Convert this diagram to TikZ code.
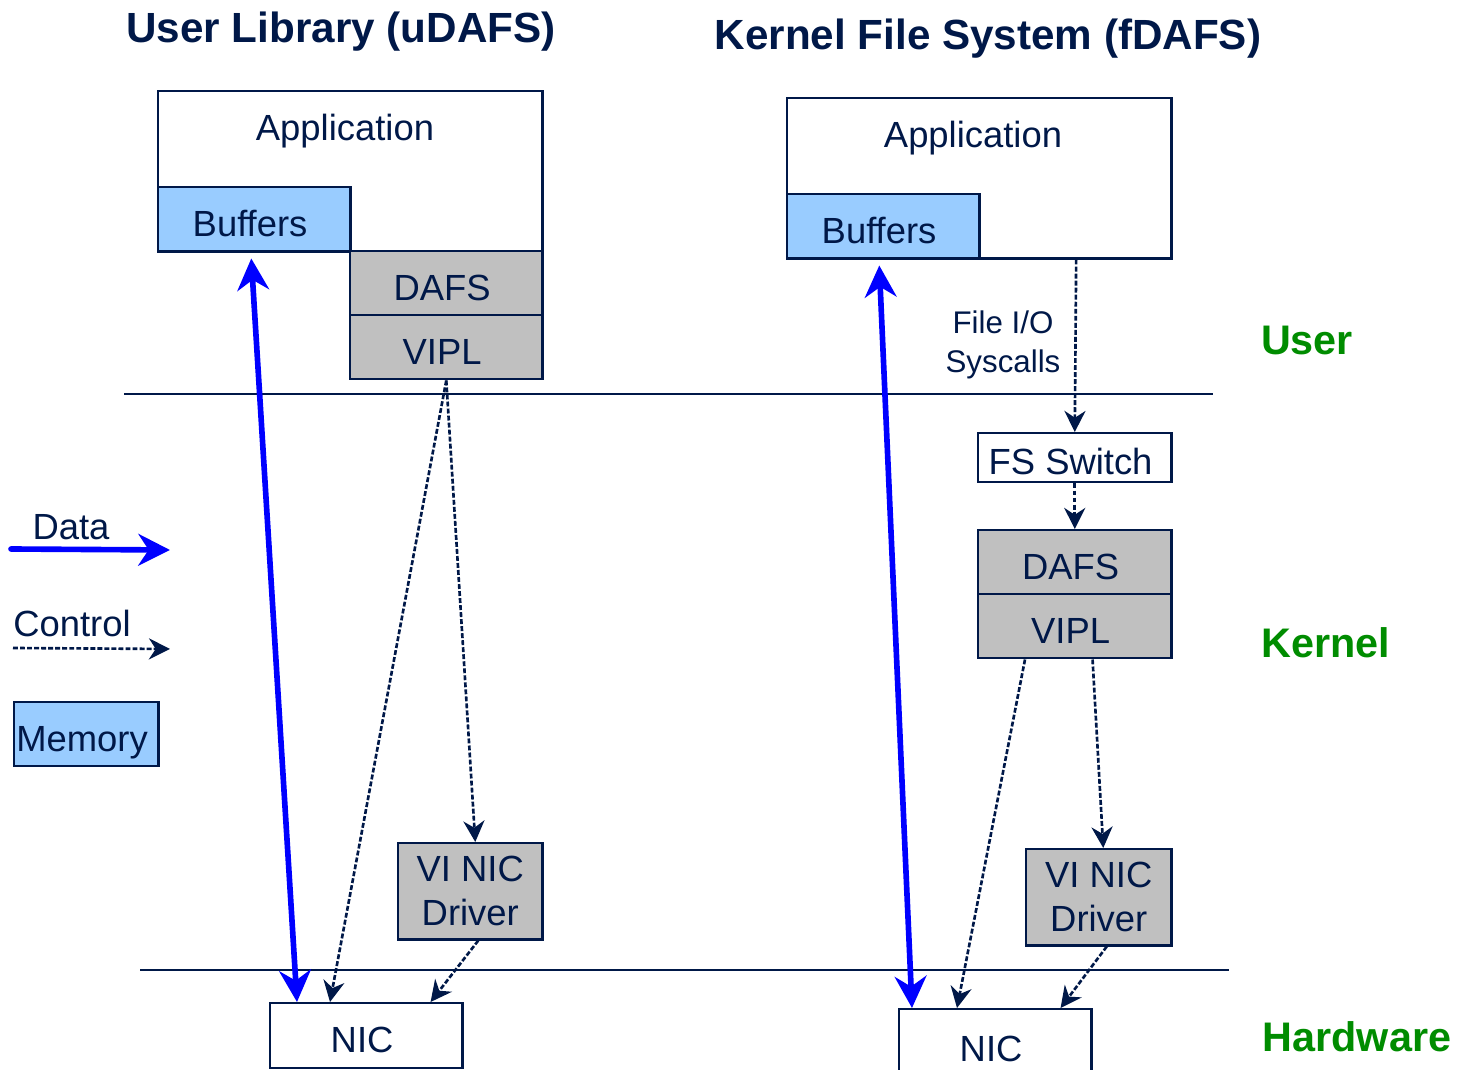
\documentclass[tikz,border=0pt]{standalone}
\usepackage{fontspec}
\setmainfont{Liberation Sans}
\usetikzlibrary{arrows.meta,calc}
\definecolor{navy}{RGB}{0,24,72}
\definecolor{membg}{RGB}{153,204,255}
\definecolor{layerbg}{RGB}{192,192,192}
\definecolor{datablue}{RGB}{0,0,255}
\definecolor{levelgreen}{RGB}{0,140,0}
\newcommand{\boxfont}{\fontsize{10.35}{12.5}\selectfont}

\begin{document}
\begin{tikzpicture}[x=0.01cm,y=-0.01cm,
	blk/.style={draw=navy,line width=0.7pt,inner sep=0pt,text=navy,font=\boxfont,anchor=north west},
	tb/.style={blk,text height=9.6pt,text depth=0pt,execute at end node={\kern2.4pt}},
	mem/.style={tb,fill=membg},
	layer/.style={tb,fill=layerbg},
	txt/.style={text=navy,font=\boxfont,inner sep=0pt},
	level/.style={text=levelgreen,font=\fontsize{11.75}{14}\selectfont\bfseries,inner sep=0pt},
	title/.style={text=navy,font=\fontsize{12}{14}\selectfont\bfseries,inner sep=0pt},
	dtip/.tip={Stealth[length=9pt,width=9pt]},
	ctip/.tip={Stealth[length=6pt,width=6pt]},
	data/.style={datablue,line width=1.6pt,line cap=round},
	ctrl/.style={navy,line width=0.75pt,dash pattern=on 1.4pt off 0.6pt,-ctip},
	sep/.style={navy,line width=0.8pt}]
	\useasboundingbox (0,0) rectangle (1462,1070);

	\node[title] (ttl1) at (341,32) {User Library (uDAFS)};
	\node[title] (ttl2) at (988,39) {Kernel File System (fDAFS)};

	% uDAFS
	\node[blk,minimum width=3.84cm,minimum height=1.6cm] (app1) at (157,90) {};
	\node[txt] (app1t) at (345,131) {Application};
	\node[mem,minimum width=1.92cm,minimum height=0.64cm] (buf1) at (157,186) {Buffers};
	\node[layer,minimum width=1.92cm,minimum height=0.64cm] (dafs1) at (349,250) {DAFS};
	\node[layer,minimum width=1.92cm,minimum height=0.64cm] (vipl1) at (349,314) {VIPL};
	\node[blk,fill=layerbg,minimum width=1.44cm,minimum height=0.96cm,align=center] (drv1) at (397,842) {VI NIC\\Driver};
	\node[tb,minimum width=1.92cm,minimum height=0.65cm] (nic1) at (269,1002) {NIC};

	% fDAFS
	\node[blk,minimum width=3.84cm,minimum height=1.6cm] (app2) at (786,97) {};
	\node[txt] (app2t) at (973,138) {Application};
	\node[mem,minimum width=1.92cm,minimum height=0.64cm] (buf2) at (786,193) {Buffers};
	\node[txt,align=center,font=\fontsize{8.9}{11}\selectfont] (sysc) at (1003,345) {File I/O\\Syscalls};
	\node[tb,minimum width=1.93cm,minimum height=0.49cm] (fss) at (977,432) {FS Switch};
	\node[layer,minimum width=1.93cm,minimum height=0.64cm] (dafs2) at (977,529) {DAFS};
	\node[layer,minimum width=1.93cm,minimum height=0.64cm] (vipl2) at (977,593) {VIPL};
	\node[blk,fill=layerbg,minimum width=1.45cm,minimum height=0.96cm,align=center] (drv2) at (1025,848) {VI NIC\\Driver};
	\node[tb,minimum width=1.92cm,minimum height=0.7cm] (nic2) at (898,1008) {NIC};

	\node[level] (lvuser) at (1307,340) {User};
	\node[level] (lvkern) at (1326,643) {Kernel};
	\node[level] (lvhw) at (1357,1037) {Hardware};

	\draw[sep] (124,394) -- (1213,394);
	\draw[sep] (140,970) -- (1229,970);

	% legend
	\node[txt] (lgdata) at (71,527) {Data};
	\coordinate (lgd0) at (11,549);
	\coordinate (lgd1) at (170,550);
	\draw[data,-dtip] (lgd0) -- (lgd1);
	\node[txt] (lgctrl) at (72,623) {Control};
	\coordinate (lgc0) at (13,648);
	\coordinate (lgc1) at (170,649);
	\draw[ctrl] (lgc0) -- (lgc1);
	\node[mem,minimum width=1.44cm,minimum height=0.64cm] (lgmem) at (13,701) {Memory};

	\draw[data,dtip-dtip] ($(buf1.south)+(-3,6)$) -- ($(nic1.north west)+(28,0)$);
	\draw[data,dtip-dtip] ($(buf2.south)+(-4,6)$) -- ($(nic2.north west)+(14,0)$);

	\draw[ctrl] (vipl1.south) -- ($(nic1.north west)+(61,0)$);
	\draw[ctrl] (vipl1.south) -- ($(drv1.north)+(5,0)$);
	\draw[ctrl] ($(drv1.south)+(8,0)$) -- ($(nic1.north east)+(-33,0)$);
	\draw[ctrl] ($(app2.south east)+(-96.5,0)$) -- (fss.north);
	\draw[ctrl] (fss.south) -- (dafs2.north);
	\draw[ctrl] ($(vipl2.south west)+(48,0)$) -- ($(nic2.north west)+(59,0)$);
	\draw[ctrl] ($(vipl2.south east)+(-80,0)$) -- ($(drv2.north)+(4.5,0)$);
	\draw[ctrl] ($(drv2.south)+(8,0)$) -- ($(nic2.north east)+(-32,0)$);
\end{tikzpicture}
\end{document}
